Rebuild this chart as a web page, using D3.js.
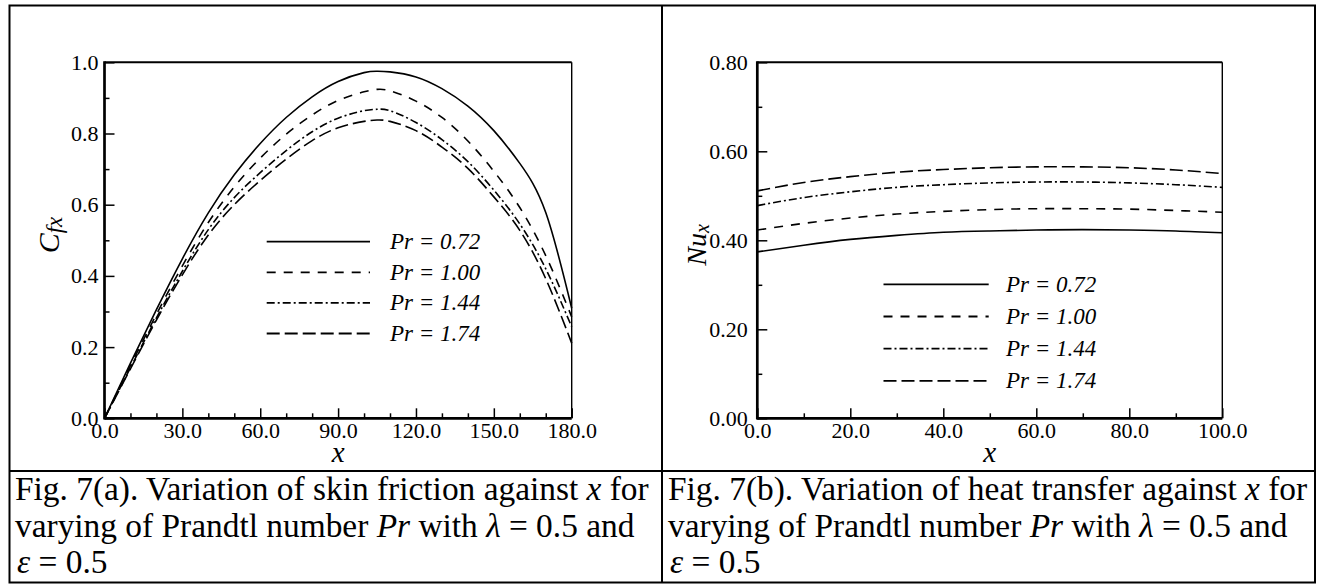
<!DOCTYPE html>
<html>
<head>
<meta charset="utf-8">
<script src="https://cdn.jsdelivr.net/npm/d3@7"></script>
</head>
<body style="margin:0">
<svg id="chart" width="1317" height="584"></svg>
<script>
// ---------------- DATA ----------------
// Fig. 7(a): skin friction Cfx vs x
const cfX      = [0, 10, 20, 30, 40, 50, 60, 70, 80, 90, 100, 105, 110, 120, 130, 140, 150, 160, 170, 180];
const cfPr072  = [0, 0.155, 0.305, 0.448, 0.577, 0.684, 0.772, 0.845, 0.903, 0.946, 0.971, 0.975, 0.973, 0.959, 0.926, 0.877, 0.808, 0.716, 0.578, 0.309];
const cfPr100  = [0, 0.148, 0.292, 0.428, 0.550, 0.650, 0.731, 0.798, 0.852, 0.893, 0.917, 0.924, 0.920, 0.891, 0.845, 0.779, 0.694, 0.592, 0.457, 0.285];
const cfPr144  = [0, 0.142, 0.282, 0.413, 0.530, 0.620, 0.690, 0.752, 0.805, 0.843, 0.864, 0.868, 0.864, 0.831, 0.783, 0.721, 0.641, 0.546, 0.420, 0.257];
const cfPr174  = [0, 0.139, 0.276, 0.403, 0.515, 0.600, 0.668, 0.728, 0.780, 0.816, 0.834, 0.838, 0.834, 0.808, 0.762, 0.702, 0.622, 0.528, 0.392, 0.211];

// Fig. 7(b): heat transfer Nux vs x
const nuX      = [0, 10, 20, 30, 40, 50, 60, 70, 80, 90, 100];
const nuPr072  = [0.374, 0.389, 0.402, 0.411, 0.418, 0.421, 0.423, 0.424, 0.423, 0.421, 0.417];
const nuPr100  = [0.423, 0.438, 0.450, 0.459, 0.465, 0.469, 0.471, 0.471, 0.470, 0.467, 0.463];
const nuPr144  = [0.478, 0.496, 0.509, 0.519, 0.525, 0.529, 0.531, 0.531, 0.529, 0.525, 0.519];
const nuPr174  = [0.511, 0.530, 0.543, 0.553, 0.559, 0.563, 0.565, 0.565, 0.563, 0.558, 0.550];

const seriesNames = ["Pr = 0.72", "Pr = 1.00", "Pr = 1.44", "Pr = 1.74"];

// ticks
const cfXTicks  = [0, 30, 60, 90, 120, 150, 180];
const cfXLabels = ["0.0", "30.0", "60.0", "90.0", "120.0", "150.0", "180.0"];
const cfXMinor  = [10, 20, 40, 50, 70, 80, 100, 110, 130, 140, 160, 170];
const cfYTicks  = [0, 0.2, 0.4, 0.6, 0.8, 1.0];
const cfYLabels = ["0.0", "0.2", "0.4", "0.6", "0.8", "1.0"];
const cfYMinor  = [0.1, 0.3, 0.5, 0.7, 0.9];

const nuXTicks  = [0, 20, 40, 60, 80, 100];
const nuXLabels = ["0.0", "20.0", "40.0", "60.0", "80.0", "100.0"];
const nuXMinor  = [10, 30, 50, 70, 90];
const nuYTicks  = [0, 0.2, 0.4, 0.6, 0.8];
const nuYLabels = ["0.00", "0.20", "0.40", "0.60", "0.80"];
const nuYMinor  = [0.1, 0.3, 0.5, 0.7];

// ---------------- STYLE ----------------
const FONT = "Liberation Serif";
const dashes = [null, "9,8", "8,3,2,3", "13,5"];

const svg = d3.select("#chart");
svg.append("rect").attr("width", 1317).attr("height", 584).attr("fill", "#fff");

function txt(sel, size, italic) {
  sel.attr("font-size", size).style("font-family", FONT);
  if (italic) sel.attr("font-style", "italic");
  return sel;
}

// ---------------- TABLE BORDERS ----------------
const tbl = svg.append("g").attr("stroke", "#000").attr("stroke-width", 2).attr("fill", "none");
tbl.append("rect").attr("x", 9.5).attr("y", 5.5).attr("width", 1305.5).attr("height", 577);
tbl.append("line").attr("x1", 662).attr("x2", 662).attr("y1", 5.5).attr("y2", 582.5);
tbl.append("line").attr("x1", 9.5).attr("x2", 1315).attr("y1", 471).attr("y2", 471);

// ---------------- PANEL FUNCTION ----------------
function panel(cfg) {
  const x = d3.scaleLinear().domain(cfg.xDomain).range(cfg.xRange);
  const y = d3.scaleLinear().domain(cfg.yDomain).range(cfg.yRange);
  const g = svg.append("g");

  const xMinorAxis = d3.axisBottom(x).tickValues(cfg.xMinor).tickSizeInner(-5).tickSizeOuter(0).tickFormat("");
  const yMinorAxis = d3.axisLeft(y).tickValues(cfg.yMinor).tickSizeInner(-5).tickSizeOuter(0).tickFormat("");
  const xAxis = d3.axisBottom(x).tickValues(cfg.xTicks).tickSizeInner(-10).tickSizeOuter(0).tickPadding(4)
    .tickFormat((d, i) => cfg.xLabels[i]);
  const yAxis = d3.axisLeft(y).tickValues(cfg.yTicks).tickSizeInner(-10).tickSizeOuter(0).tickPadding(cfg.yPad)
    .tickFormat((d, i) => cfg.yLabels[i]);

  const y0 = y.range()[0];
  const x0 = x.range()[0];
  [xMinorAxis, xAxis, yMinorAxis, yAxis].forEach((a, k) => {
    const ag = g.append("g").attr("transform", k < 2 ? `translate(0,${y0})` : `translate(${x0},0)`).call(a);
    ag.attr("font-family", FONT).attr("font-size", 22);
    ag.select(".domain").remove();
    ag.selectAll(".tick line").attr("stroke", "#000").attr("stroke-width", 1.5);
    txt(ag.selectAll("text"), 22, false).attr("fill", "#000");
  });

  // frame
  const [xa, xb] = x.range();
  const [ya, yb] = y.range();
  g.append("line").attr("x1", xa).attr("x2", xb).attr("y1", yb).attr("y2", yb).attr("stroke", "#000").attr("stroke-width", 2);
  g.append("line").attr("x1", xb).attr("x2", xb).attr("y1", yb).attr("y2", ya).attr("stroke", "#000").attr("stroke-width", 1.4);
  g.append("line").attr("x1", xa).attr("x2", xb).attr("y1", ya).attr("y2", ya).attr("stroke", "#000").attr("stroke-width", 2.7);
  g.append("line").attr("x1", xa).attr("x2", xa).attr("y1", yb - 1).attr("y2", ya + 1.3).attr("stroke", "#000").attr("stroke-width", 2.7);

  // curves
  const line = d3.line().x(d => x(d[0])).y(d => y(d[1])).curve(d3.curveNatural);
  cfg.series.forEach((s, i) => {
    const pts = cfg.xs.map((xv, j) => [xv, s[j]]);
    g.append("path").datum(pts).attr("d", line)
      .attr("fill", "none").attr("stroke", "#000").attr("stroke-width", 1.6)
      .attr("stroke-dasharray", dashes[i]);
  });

  // legend
  seriesNames.forEach((name, i) => {
    const ly = cfg.legY + i * cfg.legStep;
    g.append("line").attr("x1", cfg.legX1).attr("x2", cfg.legX2).attr("y1", ly).attr("y2", ly)
      .attr("stroke", "#000").attr("stroke-width", 1.8).attr("stroke-dasharray", dashes[i]);
    txt(g.append("text").attr("x", cfg.legTX).attr("y", ly + 7.5), 23, true).text(name);
  });

  // x title
  txt(g.append("text").attr("x", (xa + xb) / 2).attr("y", 462).attr("text-anchor", "middle"), 29, true).text("x");

  // y title
  const t = txt(g.append("text").attr("transform", `translate(${cfg.yTitleX},${cfg.yTitleY}) rotate(-90)`)
    .attr("text-anchor", "middle"), cfg.yMainSize, true);
  t.append("tspan").attr("font-size", cfg.yMainSize).text(cfg.yMain);
  t.append("tspan").attr("font-size", cfg.ySubSize).attr("dy", 3).text(cfg.ySub);
}

panel({
  xDomain: [0, 180], xRange: [104.5, 571.7],
  yDomain: [0, 1], yRange: [418.3, 62.3],
  xTicks: cfXTicks, xLabels: cfXLabels, xMinor: cfXMinor,
  yTicks: cfYTicks, yLabels: cfYLabels, yMinor: cfYMinor, yPad: 6,
  xs: cfX, series: [cfPr072, cfPr100, cfPr144, cfPr174],
  legX1: 266.7, legX2: 370, legTX: 390, legY: 241.7, legStep: 30.6,
  yTitleX: 59, yTitleY: 235, yMain: "C", ySub: "fx", yMainSize: 30, ySubSize: 23
});

panel({
  xDomain: [0, 100], xRange: [757.3, 1222.3],
  yDomain: [0, 0.8], yRange: [418.3, 62.3],
  xTicks: nuXTicks, xLabels: nuXLabels, xMinor: nuXMinor,
  yTicks: nuYTicks, yLabels: nuYLabels, yMinor: nuYMinor, yPad: 9.5,
  xs: nuX, series: [nuPr072, nuPr100, nuPr144, nuPr174],
  legX1: 883.5, legX2: 988.7, legTX: 1006, legY: 284.3, legStep: 32.2,
  yTitleX: 705.5, yTitleY: 245, yMain: "Nu", ySub: "x", yMainSize: 28, ySubSize: 20
});

// ---------------- CAPTIONS ----------------
function caption(x0, lines) {
  const baselines = [500, 536.5, 573];
  lines.forEach((parts, i) => {
    const t = txt(svg.append("text").attr("x", x0 + (parts.indent || 0)).attr("y", baselines[i]), 33.4, false);
    parts.segs.forEach(s => {
      const ts = t.append("tspan").text(s[0]);
      if (s[1]) ts.attr("font-style", "italic");
    });
  });
}
caption(15, [
  { segs: [["Fig. 7(a). Variation of skin friction against "], ["x", true], [" for"]] },
  { segs: [["varying of Prandtl number "], ["Pr", true], [" with "], ["λ", true], [" = 0.5 and"]] },
  { indent: 2, segs: [["ε", true], [" = 0.5"]] }
]);
caption(668, [
  { segs: [["Fig. 7(b). Variation of heat transfer against "], ["x", true], [" for"]] },
  { segs: [["varying of Prandtl number "], ["Pr", true], [" with "], ["λ", true], [" = 0.5 and"]] },
  { indent: 2, segs: [["ε", true], [" = 0.5"]] }
]);
</script>
</body>
</html>
